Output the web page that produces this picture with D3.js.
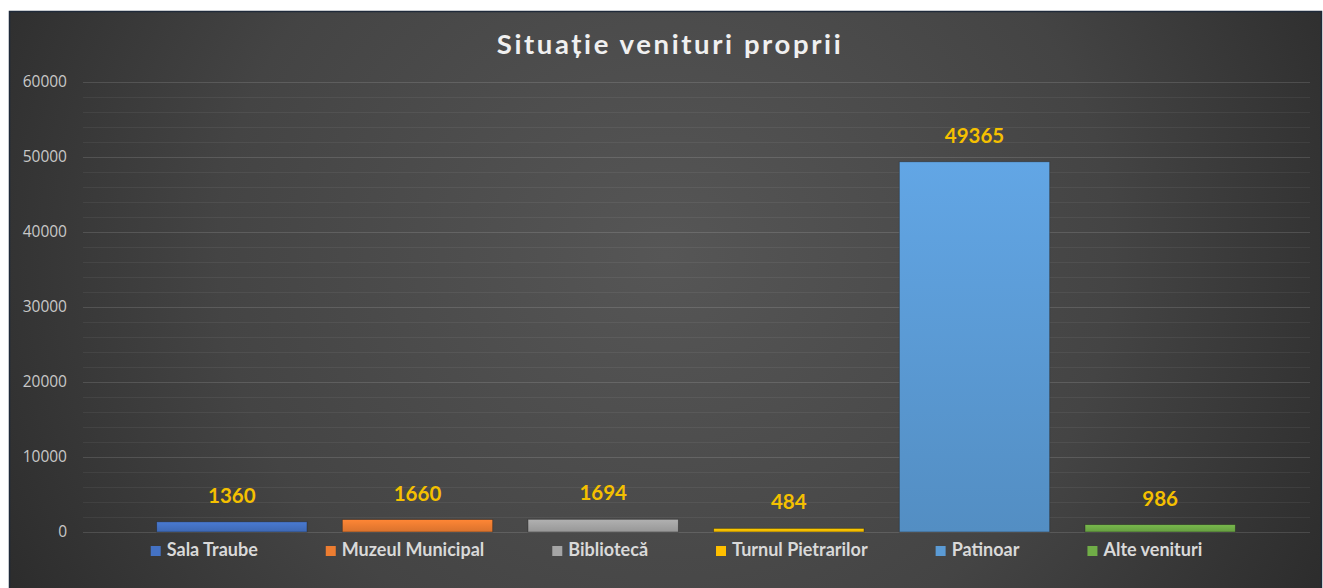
<!DOCTYPE html>
<html><head><meta charset="utf-8">
<script src="https://cdn.jsdelivr.net/npm/d3@7"></script>
<style>html,body{margin:0;padding:0;background:#fff;overflow:hidden}</style>
</head><body>
<svg id="c" width="1323" height="588"></svg>
<script>
const categories = ["Sala Traube","Muzeul Municipal","Bibliotecă","Turnul Pietrarilor","Patinoar","Alte venituri"];
const values = [1360, 1660, 1694, 484, 49365, 986];
const colors = ["#4472C4","#ED7D31","#A5A5A5","#FFC000","#5B9BD5","#70AD47"];
const yTicks = [0,10000,20000,30000,40000,50000,60000];
const title = "Situație venituri proprii";

const svg = d3.select("#c");
const defs = svg.append("defs");
const bg = defs.append("radialGradient").attr("id","bg").attr("cx","50%").attr("cy","42%").attr("r","62%")
  .attr("gradientTransform","translate(0.5,0.42) scale(1,2.1) translate(-0.5,-0.42)");
bg.append("stop").attr("offset","0%").attr("stop-color","#565656");
bg.append("stop").attr("offset","55%").attr("stop-color","#444444");
bg.append("stop").attr("offset","100%").attr("stop-color","#272727");

colors.forEach((c,i)=>{
  const g = defs.append("linearGradient").attr("id","g"+i).attr("x1",0).attr("y1",0).attr("x2",0).attr("y2",1);
  g.append("stop").attr("offset","0%").attr("stop-color",d3.color(c).brighter(0.2));
  g.append("stop").attr("offset","100%").attr("stop-color",d3.color(c).darker(0.25));
});

// panel
svg.append("rect").attr("x",9.5).attr("y",11.5).attr("width",1312).attr("height",580)
  .attr("fill","url(#bg)").attr("stroke","#1f2a3a").attr("stroke-width",1.5);

const y = d3.scaleLinear().domain([0,60000]).range([532,82]);
const x = d3.scaleBand().domain(categories).range([139,1253]).paddingInner(0.19).paddingOuter(0.095);
const gridL = 83, gridR = 1310;

// minor gridlines
const minor = d3.range(0,60001,2000).filter(v=>v%10000!==0);
svg.append("g").selectAll("line").data(minor).join("line")
  .attr("x1",gridL).attr("x2",gridR).attr("y1",d=>y(d)+0.5).attr("y2",d=>y(d)+0.5)
  .attr("stroke","#ffffff").attr("stroke-opacity",0.06).attr("stroke-width",1);
// major gridlines
svg.append("g").selectAll("line").data(yTicks).join("line")
  .attr("x1",gridL).attr("x2",gridR).attr("y1",d=>y(d)+0.5).attr("y2",d=>y(d)+0.5)
  .attr("stroke","#ffffff").attr("stroke-opacity",0.13).attr("stroke-width",1.2);

// y axis labels
const yAxis = d3.axisLeft(y).tickValues(yTicks).tickSize(0).tickPadding(0).tickFormat(d3.format("d"));
const ya = svg.append("g").attr("transform","translate(67,0)").call(yAxis);
ya.select(".domain").remove();
ya.selectAll("text").attr("fill","#c8c8c8").style("font-family","'Open Sans',sans-serif").style("font-size","15.5px");

// bars
svg.append("g").selectAll("rect").data(values).join("rect")
  .attr("x",(d,i)=>x(categories[i])).attr("width",x.bandwidth())
  .attr("y",d=>y(d)).attr("height",d=>y(0)-y(d))
  .attr("fill",(d,i)=>"url(#g"+i+")")
  .attr("stroke","#1e1e1e").attr("stroke-opacity",0.5).attr("stroke-width",0.8);

// data labels
svg.append("g").selectAll("text").data(values).join("text")
  .attr("x",(d,i)=>x(categories[i])+x.bandwidth()/2).attr("y",d=>y(d)-19)
  .attr("text-anchor","middle").attr("fill","#F5C000")
  .style("font-family","Lato,sans-serif").style("font-weight","bold").style("font-size","20.5px")
  .text(d=>d);

// title
svg.append("text").attr("x",670).attr("y",54).attr("text-anchor","middle")
  .attr("fill","#f0f0f0").style("font-family","Lato,sans-serif").style("font-weight","bold")
  .style("font-size","27.5px").style("letter-spacing","2.6px").text(title);

// legend
const lg = svg.append("g");
const items = lg.selectAll("g").data(categories).join("g");
items.append("rect").attr("width",10).attr("height",10).attr("y",-10).attr("fill",(d,i)=>colors[i]);
items.append("text").attr("x",16).attr("y",0).attr("fill","#d9d9d9")
  .style("font-family","Lato,sans-serif").style("font-weight","bold").style("font-size","18px").text(d=>d);
const gap = 68; const widths=[];
items.each(function(d,i){
  widths.push(16 + this.querySelector("text").getComputedTextLength());
});
const total = d3.sum(widths)+gap*(widths.length-1);
const start = 676.5 - total/2;
items.attr("transform",(d,i)=>`translate(${start + d3.sum(widths.slice(0,i)) + gap*i},556)`);
</script>
</body></html>
